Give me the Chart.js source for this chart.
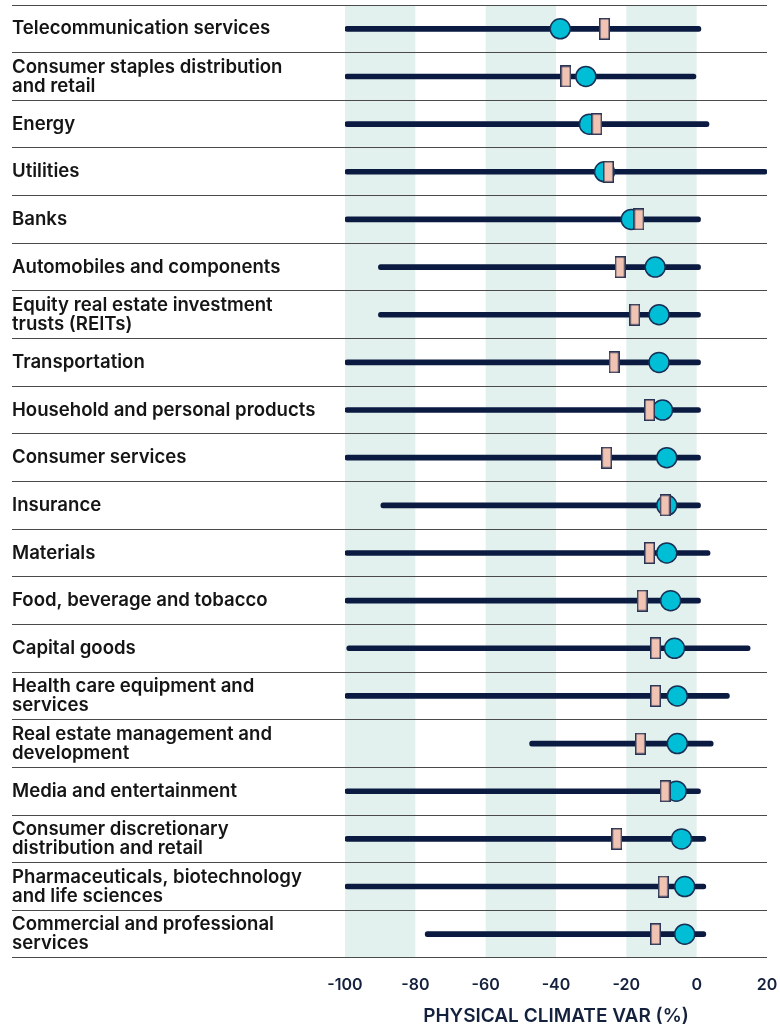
<!DOCTYPE html>
<html>
<head>
<meta charset="utf-8">
<script src="https://cdn.jsdelivr.net/npm/chart.js@4.4.1/dist/chart.umd.min.js"></script>
<style>
  html, body { margin: 0; padding: 0; background: #ffffff; }
  #wrap { width: 780px; height: 1026px; }
</style>
</head>
<body>
<div id="wrap"><canvas id="c" width="780" height="1026"></canvas></div>
<script>
// ---- data ----
const categories = [
  'Telecommunication services',
  ['Consumer staples distribution', 'and retail'],
  'Energy',
  'Utilities',
  'Banks',
  'Automobiles and components',
  ['Equity real estate investment', 'trusts (REITs)'],
  'Transportation',
  'Household and personal products',
  'Consumer services',
  'Insurance',
  'Materials',
  'Food, beverage and tobacco',
  'Capital goods',
  ['Health care equipment and', 'services'],
  ['Real estate management and', 'development'],
  'Media and entertainment',
  ['Consumer discretionary', 'distribution and retail'],
  ['Pharmaceuticals, biotechnology', 'and life sciences'],
  ['Commercial and professional', 'services']
];
const rangeLow  = [-100, -100, -100, -100, -100, -90.5, -90.5, -100, -100, -100, -89.8, -100, -100, -99.5, -100, -47.5, -100, -100, -100, -77.2];
const rangeHigh = [1.2, -0.2, 3.5, 20, 1.1, 1.1, 1.1, 1.1, 1.1, 1.1, 1.1, 3.8, 1.1, 15.2, 9.3, 4.7, 1.1, 2.6, 2.6, 2.6];
const circleValues = [-38.8, -31.5, -30.5, -26.2, -18.6, -11.8, -10.7, -10.7, -9.7, -8.5, -8.5, -8.5, -7.4, -6.3, -5.5, -5.5, -5.8, -4.3, -3.4, -3.4];
const rectValues   = [-26.2, -37.2, -28.4, -25.1, -16.4, -21.8, -17.6, -23.5, -13.4, -25.6, -9.0, -13.4, -15.5, -11.7, -11.7, -16.0, -9.0, -22.7, -9.5, -11.7];
const xTicks = [-100, -80, -60, -40, -20, 0, 20];
const bandRanges = [[-100, -80], [-60, -40], [-20, 0]];

// ---- styles ----
const NAVY = '#0b1a40';
const CYAN = '#00bed6';
const PINK = '#f0c3b3';
const BAND = '#e3f1ee';
const FONT = "Inter, 'Open Sans', sans-serif";

// rectangle marker image
const rectImg = document.createElement('canvas');
rectImg.width = 11; rectImg.height = 22;
(function () {
  const g = rectImg.getContext('2d');
  g.fillStyle = PINK;
  g.fillRect(0.75, 0.75, 9.5, 20.5);
  g.strokeStyle = '#2a3556';
  g.lineWidth = 1.5;
  g.strokeRect(0.75, 0.75, 9.5, 20.5);
})();

const bandsPlugin = {
  id: 'bands',
  beforeDraw(chart) {
    const { ctx, chartArea, scales } = chart;
    ctx.save();
    ctx.fillStyle = BAND;
    bandRanges.forEach(([a, b]) => {
      const x1 = scales.x.getPixelForValue(a);
      const x2 = scales.x.getPixelForValue(b);
      ctx.fillRect(x1, chartArea.top, x2 - x1, chartArea.bottom - chartArea.top);
    });
    ctx.restore();
  }
};

function zeroPad(s) {
  s.paddingTop = 0; s.paddingBottom = 0; s.paddingLeft = 0; s.paddingRight = 0;
}

new Chart(document.getElementById('c'), {
  type: 'bar',
  data: {
    labels: categories,
    datasets: [
      {
        type: 'line',
        data: rectValues,
        showLine: false,
        pointStyle: rectImg,
        pointRadius: 11,
        order: 0
      },
      {
        type: 'line',
        data: circleValues,
        showLine: false,
        pointStyle: 'circle',
        pointRadius: 10,
        pointBorderWidth: 1.5,
        pointBackgroundColor: CYAN,
        pointBorderColor: '#163056',
        order: 1
      },
      {
        type: 'bar',
        data: rangeLow.map((l, i) => [l, rangeHigh[i]]),
        backgroundColor: NAVY,
        barThickness: 5,
        borderRadius: 3,
        borderSkipped: false,
        order: 2
      }
    ]
  },
  options: {
    indexAxis: 'y',
    responsive: false,
    animation: false,
    events: [],
    layout: { autoPadding: false, padding: { left: 12, right: 13, top: 5, bottom: 0 } },
    plugins: { legend: { display: false }, tooltip: { enabled: false } },
    scales: {
      x: {
        type: 'linear',
        min: -100,
        max: 20,
        afterBuildTicks: (s) => { s.ticks = xTicks.map(v => ({ value: v })); },
        afterFit: (s) => { s.height = 68; zeroPad(s); },
        grid: { display: false, drawTicks: false },
        border: { display: false },
        ticks: {
          padding: 18,
          color: '#14213d',
          font: { family: FONT, size: 16, weight: '600' },
          callback: (v) => String(v)
        },
        title: {
          display: true,
          text: 'PHYSICAL CLIMATE VAR (%)',
          color: '#14213d',
          font: { family: FONT, size: 19, weight: '600', lineHeight: 1 },
          padding: { top: 0, bottom: 0 }
        }
      },
      y: {
        type: 'category',
        offset: true,
        afterFit: (s) => { s.width = 333; zeroPad(s); },
        grid: {
          offset: true,
          color: '#4a4a4a',
          lineWidth: 1,
          drawTicks: true,
          tickLength: 333
        },
        border: { display: false },
        ticks: {
          crossAlign: 'far',
          padding: 0,
          color: '#151515',
          font: { family: FONT, size: 18.6, weight: '600', lineHeight: '19px' },
          autoSkip: false
        }
      }
    }
  },
  plugins: [bandsPlugin]
});
</script>
</body>
</html>
